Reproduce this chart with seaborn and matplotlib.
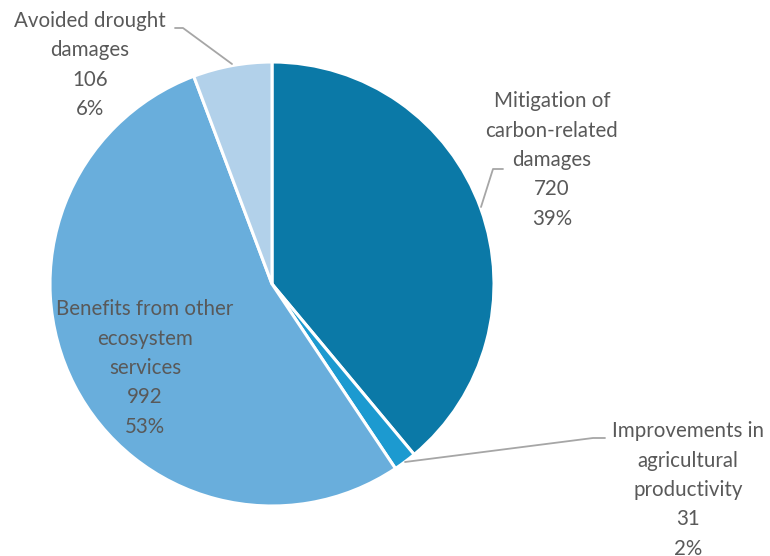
import matplotlib
matplotlib.use("Agg")
import matplotlib.pyplot as plt
import seaborn as sns

labels = ["Mitigation of\ncarbon-related\ndamages",
          "Improvements in\nagricultural\nproductivity",
          "Benefits from other\necosystem\nservices",
          "Avoided drought\ndamages"]
values = [720, 31, 992, 106]
pct_labels = ["39%", "2%", "53%", "6%"]
colors = ["#0B79A7", "#1C9AD0", "#69AEDC", "#B2D1EA"]

sns.set_theme(style="white")
plt.rcParams['font.family'] = ['Lato', 'DejaVu Sans']

fig = plt.figure(figsize=(7.7, 5.56), dpi=100)
ax = fig.add_axes([0, 0, 1, 1])

H = 556
cx, cy, r = 272, H - 284, 222
ax.pie(values, colors=colors, startangle=90, counterclock=False,
       center=(cx, cy), radius=r, frame=True,
       wedgeprops=dict(edgecolor="white", linewidth=2.2))
ax.set_xlim(0, 770)
ax.set_ylim(0, 556)
ax.set_aspect("auto")
ax.axis("off")

txt = "#595959"
pos = [(552, 160), (688, 490), (145, 368), (90, 65)]
for lab, v, p, (x, y) in zip(labels, values, pct_labels, pos):
    ax.text(x, H - y, f"{lab}\n{v}\n{p}", ha="center", va="center",
            fontsize=14.8, color=txt, linespacing=1.58)

lc = "#A6A6A6"
leaders = [
    [(481, 207), (493, 169), (503, 169)],
    [(405, 462), (593, 438), (605, 438)],
    [(232, 64), (183, 28), (175, 28)],
]
for pts in leaders:
    xs = [p[0] for p in pts]
    ys = [H - p[1] for p in pts]
    ax.plot(xs, ys, color=lc, lw=1.3)

fig.savefig("out.png", dpi=100)
